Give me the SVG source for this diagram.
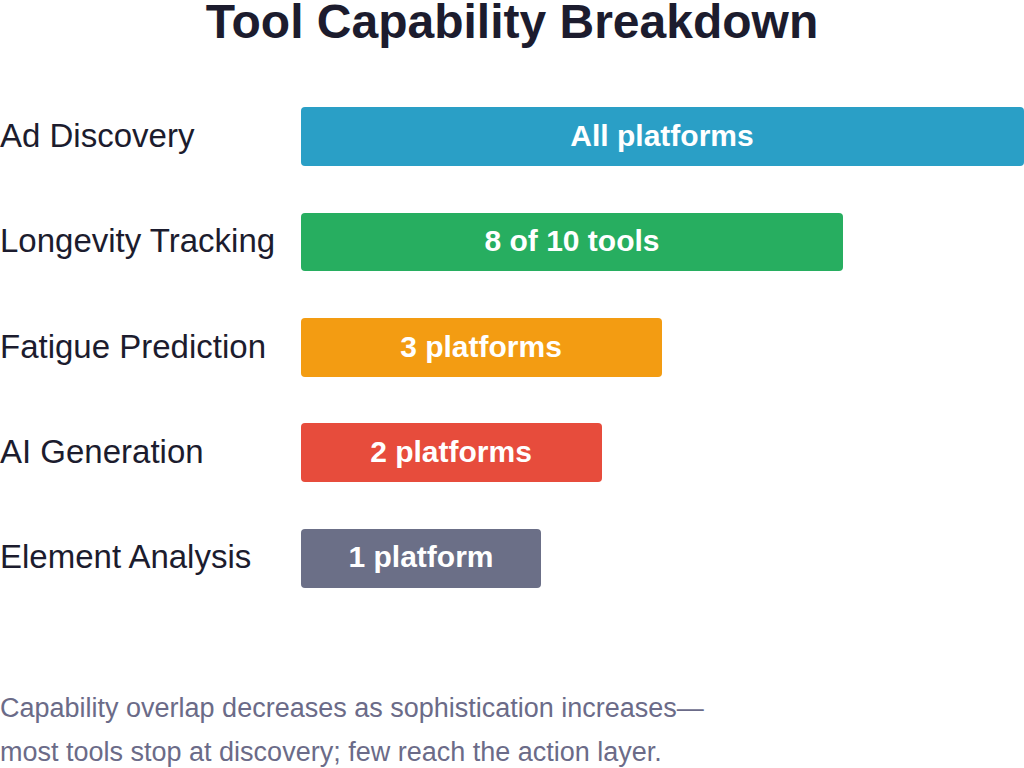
<svg xmlns="http://www.w3.org/2000/svg" width="1024" height="768" viewBox="0 0 1024 768">
<style>
.t{font-family:"Liberation Sans",Arial,sans-serif;font-weight:bold;font-size:48px;fill:#1c1c2e}
.l{font-family:"Liberation Sans",Arial,sans-serif;font-size:33px;fill:#1c1c2e}
.b{font-family:"Liberation Sans",Arial,sans-serif;font-weight:bold;font-size:30px;fill:#fff;text-anchor:middle}
.f{font-family:"Liberation Sans",Arial,sans-serif;font-size:27px;fill:#6b6b88}
</style>
<rect width="1024" height="768" fill="#fff"/>
<text class="t" x="512" y="38" text-anchor="middle">Tool Capability Breakdown</text>
<g id="n1"><text class="l" x="0" y="147">Ad Discovery</text><rect x="301" y="107" width="723" height="59" rx="4" fill="#2a9fc6"/><text class="b" x="662" y="146">All platforms</text></g>
<g id="n2"><text class="l" x="0" y="252">Longevity Tracking</text><rect x="301" y="213" width="542" height="58" rx="4" fill="#27ae60"/><text class="b" x="572" y="251">8 of 10 tools</text></g>
<g id="n3"><text class="l" x="0" y="358">Fatigue Prediction</text><rect x="301" y="318" width="361" height="59" rx="4" fill="#f39c12"/><text class="b" x="481" y="357">3 platforms</text></g>
<g id="n4"><text class="l" x="0" y="463">AI Generation</text><rect x="301" y="423" width="301" height="59" rx="4" fill="#e74c3c"/><text class="b" x="451" y="462">2 platforms</text></g>
<g id="n5"><text class="l" x="0" y="568">Element Analysis</text><rect x="301" y="529" width="240" height="59" rx="4" fill="#6b6f87"/><text class="b" x="421" y="567">1 platform</text></g>
<g id="connectors"/>
<text class="f" x="0" y="717">Capability overlap decreases as sophistication increases—</text>
<text class="f" x="0" y="761">most tools stop at discovery; few reach the action layer.</text>
</svg>
